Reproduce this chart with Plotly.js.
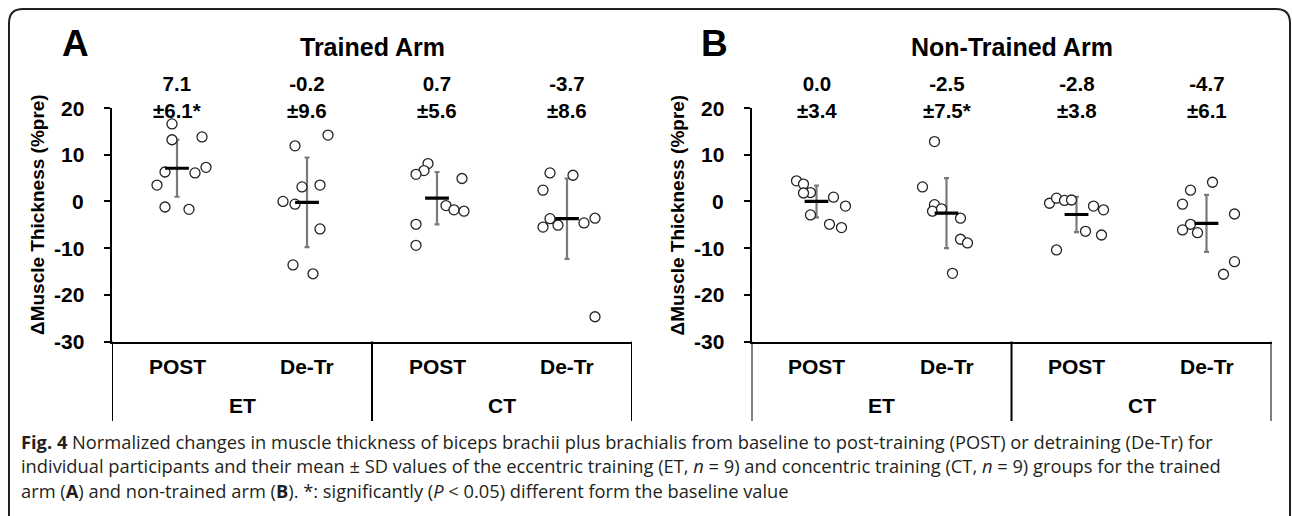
<!DOCTYPE html>
<html>
<head>
<meta charset="utf-8">
<script src="https://cdn.plot.ly/plotly-3.0.1.min.js"></script>
<style>html,body{margin:0;padding:0;background:#fff;}#chart{width:1292px;height:516px;}</style>
</head>
<body>
<div id="chart"></div>
<script>
// ---------- data ----------
const TICK_LABELS = ['POST', 'De-Tr', 'POST', 'De-Tr'];
const GROUP_LABELS = ['ET', 'CT'];
const PANEL_TITLES = ['Trained Arm', 'Non-Trained Arm'];
const PANEL_LETTERS = ['A', 'B'];

// Trained arm (A): individual participants (%pre)
const A_ET_POST = [16.6, 13.2, 13.8, 6.3, 6.1, 7.3, 3.5, -1.2, -1.7];
const A_ET_DETR = [11.9, 14.2, 3.1, 3.5, 0.0, -0.6, -5.9, -13.6, -15.5];
const A_CT_POST = [8.1, 6.6, 5.8, 4.9, -0.9, -1.8, -2.1, -4.9, -9.4];
const A_CT_DETR = [6.1, 5.6, 2.4, -3.7, -5.1, -5.5, -4.6, -3.6, -24.7];
// Non-trained arm (B)
const B_ET_POST = [4.4, 3.7, 1.9, 1.8, 0.9, -1.0, -2.9, -4.9, -5.6];
const B_ET_DETR = [12.8, 3.1, -0.7, -2.1, -1.6, -3.6, -8.1, -8.9, -15.4];
const B_CT_POST = [-0.4, 0.7, 0.2, 0.3, -1.0, -1.8, -6.4, -7.2, -10.4];
const B_CT_DETR = [4.1, 2.4, -0.6, -2.7, -4.9, -6.1, -6.7, -12.9, -15.6];

// mean ± SD
const A_MEAN = [7.1, -0.2, 0.7, -3.7];
const A_SD = [6.1, 9.6, 5.6, 8.6];
const A_SIG = [true, false, false, false];
const B_MEAN = [0.0, -2.5, -2.8, -4.7];
const B_SD = [3.4, 7.5, 3.8, 6.1];
const B_SIG = [false, true, false, false];

const Y_TICKS = [20, 10, 0, -10, -20, -30];

// horizontal scatter offsets of individual points (pixels), for readability
const JIT_A = [
  [-5, -5, 25, -12, 18, 29, -20, -12, 12],
  [-12, 21, -5, 13, -24, -12, 13, -14, 6],
  [-9, -13, -21, 25, 9, 17, 27, -21, -21],
  [-17, 6, -24, -17, -9, -24, 17, 28, 28]
];
const JIT_B = [
  [-20, -13, -6, -13, 17, 29, -6, 13, 25],
  [-12, -24, -12, -14, -5, 14, 14, 21, 6],
  [-27, -20, -12, -5, 17, 27, 9, 25, -20],
  [6, -16, -24, 28, -16, -24, -9, 28, 17]
];

// ---------- layout helpers ----------
const W = 1292, H = 516;
const px = v => v / W;
const py = v => 1 - v / H;
const CAT_PX = 130; // pixels per category
const FONT = '"Liberation Sans", Arial, sans-serif';
const CAP_FONT = '"Open Sans", "Noto Sans", sans-serif';
const LBL = 21;

const panels = [
  {ax: 'x', ay: 'y', groups: [A_ET_POST, A_ET_DETR, A_CT_POST, A_CT_DETR], mean: A_MEAN, sd: A_SD, sig: A_SIG, jit: JIT_A, left: 112},
  {ax: 'x2', ay: 'y2', groups: [B_ET_POST, B_ET_DETR, B_CT_POST, B_CT_DETR], mean: B_MEAN, sd: B_SD, sig: B_SIG, jit: JIT_B, left: 751.5}
];

const traces = [];
const annotations = [];
const shapes = [];

panels.forEach((p, pi) => {
  const cats = p.mean.map((_, i) => i + 1);
  // error bars (SD)
  traces.push({
    type: 'scatter', mode: 'markers', xaxis: p.ax, yaxis: p.ay,
    x: cats, y: p.mean,
    marker: {size: 1, color: 'rgba(0,0,0,0)'},
    error_y: {type: 'data', array: p.sd, visible: true, color: '#7a7a7a', thickness: 2.2, width: 2.5},
    hoverinfo: 'skip', showlegend: false
  });
  // individual points
  p.groups.forEach((vals, gi) => {
    traces.push({
      type: 'scatter', mode: 'markers', xaxis: p.ax, yaxis: p.ay,
      x: vals.map((_, k) => cats[gi] + p.jit[gi][k] / CAT_PX),
      y: vals,
      marker: {symbol: 'circle', size: 10, color: '#ffffff', line: {color: '#222222', width: 1.3}},
      showlegend: false
    });
  });
  // mean bars
  traces.push({
    type: 'scatter', mode: 'markers', xaxis: p.ax, yaxis: p.ay,
    x: cats, y: p.mean,
    marker: {symbol: 'line-ew', size: 17, line: {color: '#000000', width: 3.2}},
    showlegend: false
  });

  const xr = pi === 0 ? 'x' : 'x2';
  const yr = pi === 0 ? 'y' : 'y2';
  // y tick labels
  Y_TICKS.forEach(v => {
    annotations.push({
      xref: 'paper', yref: yr, x: px(p.left - 26), y: v, xanchor: 'right', yanchor: 'middle',
      text: '<b>' + v + '</b>', showarrow: false, font: {family: FONT, size: LBL, color: '#000'}
    });
  });
  // x category labels
  TICK_LABELS.forEach((t, i) => {
    annotations.push({
      xref: xr, yref: 'paper', x: cats[i], y: py(366), xanchor: 'center', yanchor: 'middle',
      text: '<b>' + t + '</b>', showarrow: false, font: {family: FONT, size: LBL, color: '#000'}
    });
  });
  // mean ± SD labels
  p.mean.forEach((m, i) => {
    annotations.push({
      xref: xr, yref: 'paper', x: cats[i], y: py(97), xanchor: 'center', yanchor: 'middle',
      text: '<b>' + m.toFixed(1) + '<br>±' + p.sd[i].toFixed(1) + (p.sig[i] ? '*' : '') + '</b>',
      showarrow: false, font: {family: FONT, size: 20.5, color: '#000'}
    });
  });
  // group labels
  GROUP_LABELS.forEach((g, i) => {
    annotations.push({
      xref: xr, yref: 'paper', x: 1.5 + 2 * i, y: py(405), xanchor: 'center', yanchor: 'middle',
      text: '<b>' + g + '</b>', showarrow: false, font: {family: FONT, size: LBL, color: '#000'}
    });
  });
  // dividers below the axis
  [0.5, 2.5, 4.5].forEach(v => {
    shapes.push({type: 'line', xref: xr, yref: 'paper', x0: v, x1: v, y0: py(341.5), y1: py(421),
      line: {color: '#000', width: 2}});
  });
  // panel title and letter
  annotations.push({
    xref: 'paper', yref: 'paper', x: px(p.left + 260), y: py(47), xanchor: 'center', yanchor: 'middle',
    text: '<b>' + PANEL_TITLES[pi] + '</b>', showarrow: false, font: {family: FONT, size: 25, color: '#000'}
  });
  annotations.push({
    xref: 'paper', yref: 'paper', x: px(p.left - 37), y: py(43), xanchor: 'center', yanchor: 'middle',
    text: '<b>' + PANEL_LETTERS[pi] + '</b>', showarrow: false, font: {family: FONT, size: 37, color: '#000'}
  });
  // y axis title
  annotations.push({
    xref: 'paper', yref: 'paper', x: px(p.left - 75), y: py(215), xanchor: 'center', yanchor: 'middle',
    text: '<b>ΔMuscle Thickness (%pre)</b>', textangle: -90, showarrow: false,
    font: {family: FONT, size: 19, color: '#000'}
  });
});

// caption
const CAPTION = [
  '<b>Fig. 4</b> Normalized changes in muscle thickness of biceps brachii plus brachialis from baseline to post-training (POST) or detraining (De-Tr) for',
  'individual participants and their mean ± SD values of the eccentric training (ET, <i>n</i> = 9) and concentric training (CT, <i>n</i> = 9) groups for the trained',
  'arm (<b>A</b>) and non-trained arm (<b>B</b>). *: significantly (<i>P</i> &lt; 0.05) different form the baseline value'
];
CAPTION.forEach((t, i) => {
  annotations.push({
    xref: 'paper', yref: 'paper', x: px(19), y: py(441 + 24.5 * i), xanchor: 'left', yanchor: 'middle',
    text: t, showarrow: false, align: 'left', font: {family: CAP_FONT, size: 18.3, color: '#231f20'}
  });
});

// figure frame (rounded top corners)
const r = 14, L = 9, T = 9, R = 1290, B = 540;
const P = (x, y) => px(x) + ',' + py(y);
shapes.push({
  type: 'path', xref: 'paper', yref: 'paper',
  path: 'M ' + P(L, B) + ' L ' + P(L, T + r) + ' Q ' + P(L, T) + ' ' + P(L + r, T) +
        ' L ' + P(R - r, T) + ' Q ' + P(R, T) + ' ' + P(R, T + r) + ' L ' + P(R, B),
  line: {color: '#231f20', width: 2}
});

const yax = (anchor) => ({
  anchor: anchor, domain: [py(341.5), py(108)], range: [-30, 20],
  tickvals: Y_TICKS, showticklabels: false, showgrid: false, zeroline: false,
  showline: true, linecolor: '#000', linewidth: 2,
  ticks: 'outside', ticklen: 6, tickwidth: 2, tickcolor: '#000', fixedrange: true
});
const xax = (anchor, left) => ({
  anchor: anchor, domain: [px(left), px(left + 4 * CAT_PX)], range: [0.5, 4.5],
  showticklabels: false, showgrid: false, zeroline: false,
  showline: true, linecolor: '#000', linewidth: 2, ticks: '', fixedrange: true
});

const layout = {
  width: W, height: H, margin: {l: 0, r: 0, t: 0, b: 0},
  paper_bgcolor: '#fff', plot_bgcolor: 'rgba(0,0,0,0)',
  xaxis: xax('y', 112), yaxis: yax('x'),
  xaxis2: xax('y2', 751.5), yaxis2: yax('x2'),
  annotations: annotations, shapes: shapes, showlegend: false
};

Plotly.newPlot('chart', traces, layout, {displayModeBar: false, staticPlot: true});
</script>
</body>
</html>
